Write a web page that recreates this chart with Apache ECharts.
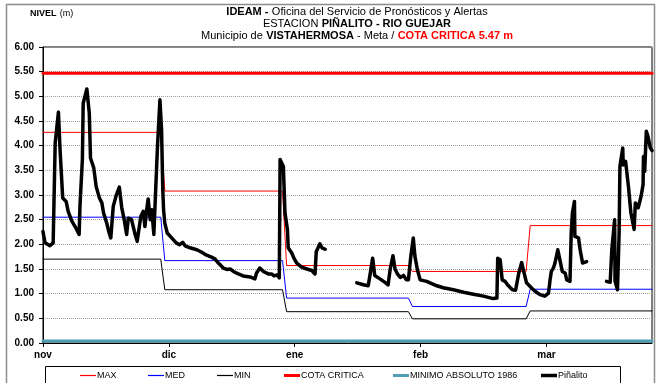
<!DOCTYPE html>
<html>
<head>
<meta charset="utf-8">
<script src="https://cdn.jsdelivr.net/npm/echarts@6/dist/echarts.min.js"></script>
<style>
  html, body { margin: 0; padding: 0; background: #fff; }
  #chart { width: 659px; height: 383px; }
</style>
</head>
<body>
<div id="chart"></div>
<script>
// Hydrological season Nov 1 .. Mar 31, x measured in days since Nov 1
const monthLabels = ['nov', 'dic', 'ene', 'feb', 'mar'];
const monthTickDays = [0, 31, 62, 93, 124];
const lastDay = 150;

// Day on which each monthly reference level takes effect
const levelStartDays = [0, 30, 60, 91, 120];
const maxLevels = [4.27, 3.08, 1.57, 1.45, 2.38];
const medLevels = [2.55, 1.67, 0.91, 0.74, 1.09];
const minLevels = [1.70, 1.08, 0.635, 0.49, 0.65];

const cotaCritica = 5.47;
const minimoAbsoluto1986 = 0.04;

// Piñalito gauge readings (null = no reading)
const pinalitoDay = [
  0, 0.5, 1.7, 2.5, 3.0, 3.8, 4.2, 4.85, 5.7, 6.2, 7.1, 7.9, 8.9, 9.1, 9.7, 9.9,
  10.8, 11.4, 11.7, 12.5, 13.1, 13.9, 14.5, 14.9, 15.7, 16.3, 16.7, 17.3, 18.1, 18.8,
  19.4, 20.0, 20.6, 21.0, 21.8, 22.7, 23.2, 23.5, 24.1, 24.7, 25.1, 25.5, 25.9, 26.4,
  26.8, 27.3, 27.7, 28.2, 28.8, 29.2, 29.5, 29.7, 30.0, 30.6, 31.7, 32.8, 33.6, 34.4,
  35.0, 36.2, 37.9, 39.1, 40.3, 41.5, 42.4, 43.2, 44.4, 45.3, 46.1, 46.9, 48.1, 49.3,
  51.0, 52.2, 52.6, 53.4, 54.3, 55.5, 56.3, 56.9, 57.7, 58.2, 58.4, 58.8, 59.2, 59.6,
  60.2, 60.4, 61.3, 61.8, 62.5, 63.7, 65.0, 66.2, 67.0, 67.3, 68.2, 68.7, 69.5,
  73.0,
  77.3, 78.9, 80.1, 80.5, 81.2, 81.7, 83.0, 84.4, 85.0, 85.5, 86.2, 86.7, 87.3, 88.0,
  88.8, 89.5, 90.0, 90.6, 91.2, 91.6, 92.2, 92.9, 94.5, 97.0, 98.6, 101.1, 103.6, 106.0,
  108.5, 110.9, 111.8, 112.0, 112.6, 113.1, 113.8, 114.4, 115.6, 116.4, 117.2, 117.9,
  118.4, 119.1, 120.4, 121.2, 122.4, 123.6, 124.5, 124.9, 125.2, 125.7, 126.1, 126.8,
  127.3, 127.9, 128.6, 129.0, 129.8, 130.1, 130.4, 130.9, 131.0, 131.9, 132.3, 132.9, 133.9,
  136.0,
  138.8, 139.7, 140.1, 140.8, 140.9, 141.5, 141.9, 142.1, 142.8, 142.9, 143.5, 144.2,
  144.8, 145.6, 145.9, 146.6, 147.3, 147.8, 147.9, 148.2, 148.6, 149.0, 149.6, 150.0
];
const pinalitoLevel = [
  2.26, 2.03, 1.97, 2.03, 4.05, 4.68, 3.92, 2.94, 2.87, 2.67, 2.47, 2.36, 2.20, 2.77, 3.72, 4.86,
  5.15, 4.66, 3.75, 3.55, 3.17, 2.94, 2.84, 2.64, 2.43, 2.23, 2.13, 2.77, 3.01, 3.16,
  2.74, 2.50, 2.20, 2.53, 2.50, 2.20, 2.06, 2.06, 2.57, 2.67, 2.36, 2.67, 2.92, 2.50,
  2.70, 2.20, 2.20, 3.99, 4.93, 4.32, 3.11, 2.70, 2.43, 2.23, 2.13, 2.03, 1.99, 2.04,
  1.97, 1.93, 1.89, 1.84, 1.78, 1.74, 1.70, 1.62, 1.52, 1.49, 1.50, 1.45, 1.40, 1.36,
  1.34, 1.30, 1.42, 1.52, 1.45, 1.40, 1.40, 1.36, 1.38, 1.32, 3.72, 3.68, 3.58, 2.64,
  2.30, 1.93, 1.82, 1.72, 1.62, 1.54, 1.50, 1.47, 1.40, 1.85, 2.01, 1.93, 1.90,
  null,
  1.22, 1.18, 1.16, 1.36, 1.72, 1.37, 1.30, 1.22, 1.18, 1.49, 1.77, 1.50, 1.40, 1.33,
  1.37, 1.28, 1.28, 1.76, 2.13, 1.76, 1.49, 1.28, 1.25, 1.16, 1.12, 1.08, 1.03, 0.99,
  0.95, 0.90, 0.91, 1.72, 1.69, 1.28, 1.25, 1.18, 1.08, 1.07, 1.42, 1.63,
  1.45, 1.22, 1.11, 1.05, 0.98, 0.95, 1.01, 1.28, 1.45, 1.52, 1.62, 1.89,
  1.69, 1.45, 1.42, 1.28, 1.25, 2.23, 2.64, 2.87, 2.16, 2.13, 1.89, 1.62, 1.65,
  null,
  1.25, 1.23, 1.89, 2.50, 1.25, 1.08, 2.23, 3.58, 3.95, 3.61, 3.68, 3.17,
  2.64, 2.30, 2.84, 2.74, 2.97, 3.21, 3.78, 3.48, 4.29, 4.19, 3.95, 3.90
];

const FONT = "'Liberation Sans Narrow', 'Liberation Sans', Arial, sans-serif";
const AXIS_FONT = "'Liberation Sans', Arial, sans-serif";

// Monthly step line: flat within each month, one-day ramp into the next level
function stepLine(levels) {
  const pts = [];
  for (let i = 0; i < levels.length; i++) {
    const start = levelStartDays[i];
    const end = i + 1 < levels.length ? levelStartDays[i + 1] - 1 : lastDay;
    pts.push([start, levels[i]]);
    pts.push([end, levels[i]]);
  }
  return pts;
}

function constantLine(v) {
  return [[0, v], [lastDay, v]];
}

const pinalitoData = pinalitoDay.map((d, i) => [d, pinalitoLevel[i] === null ? '-' : pinalitoLevel[i]]);

// Legend entries: name, left edge of the key, key thickness
const legendEntries = [
  { name: 'MAX', left: 80, h: 1.2 },
  { name: 'MED', left: 148, h: 1.2 },
  { name: 'MIN', left: 217, h: 1.2 },
  { name: 'COTA CRITICA', left: 284, h: 3 },
  { name: 'MINIMO ABSOLUTO 1986', left: 393, h: 3 },
  { name: 'Piñalito', left: 541, h: 3.5 }
];

function lineSeries(name, data, color, width, z) {
  return {
    name, type: 'line', data, symbol: 'none', showSymbol: false, z,
    lineStyle: { color, width, join: 'round', cap: 'round' },
    itemStyle: { color },
    connectNulls: false,
    animation: false
  };
}

const chart = echarts.init(document.getElementById('chart'), null, { renderer: 'canvas' });

chart.setOption({
  backgroundColor: '#fff',
  animation: false,
  grid: {
    left: 43, right: 7, top: 47, bottom: 40,
    show: true, borderColor: '#000', borderWidth: 1
  },
  xAxis: {
    type: 'value', min: 0, max: lastDay, interval: 31,
    axisLine: { show: true, lineStyle: { color: '#000', width: 1 } },
    axisTick: { show: true, length: 4, lineStyle: { color: '#000' } },
    splitLine: { show: false },
    axisLabel: {
      showMaxLabel: false,
      margin: 7,
      fontFamily: AXIS_FONT, fontSize: 10, fontWeight: 'bold', color: '#000',
      formatter: v => {
        const i = monthTickDays.indexOf(v);
        return i >= 0 ? monthLabels[i] : '';
      }
    }
  },
  yAxis: {
    type: 'value', min: 0, max: 6, interval: 0.5,
    axisLine: { show: true, lineStyle: { color: '#000', width: 1 } },
    axisTick: { show: true, length: 4, lineStyle: { color: '#000' } },
    splitLine: { show: true, lineStyle: { color: '#9a9a9a', type: 'dotted', width: 1 } },
    axisLabel: {
      margin: 9,
      fontFamily: AXIS_FONT, fontSize: 10, fontWeight: 'bold', color: '#000',
      formatter: v => v.toFixed(2)
    }
  },
  legend: legendEntries.map(e => ({
    left: e.left, top: 371, padding: 0,
    itemWidth: 16, itemHeight: e.h, itemGap: 0,
    icon: 'rect',
    textStyle: { fontFamily: FONT, fontSize: 9, color: '#000', padding: [0, 0, 0, -4] },
    data: [e.name]
  })),
  series: [
    lineSeries('MAX', stepLine(maxLevels), '#ff0000', 1, 3),
    lineSeries('MED', stepLine(medLevels), '#0000ff', 1, 3),
    lineSeries('MIN', stepLine(minLevels), '#000000', 1, 3),
    lineSeries('COTA CRITICA', constantLine(cotaCritica), '#ff0000', 3, 4),
    lineSeries('MINIMO ABSOLUTO 1986', constantLine(minimoAbsoluto1986), '#4f9fb4', 3, 4),
    lineSeries('Piñalito', pinalitoData, '#000000', 3.5, 5)
  ],
  graphic: [
    {
      type: 'rect', silent: true, z: -10,
      shape: { x: 6.5, y: 4.5, width: 648, height: 400 },
      style: { fill: 'none', stroke: '#8c8c8c', lineWidth: 1.5 }
    },
    {
      type: 'rect', silent: true, z: 1,
      shape: { x: 45.5, y: 366.5, width: 575, height: 30 },
      style: { fill: 'none', stroke: '#000', lineWidth: 1 }
    },
    {
      type: 'text', silent: true, x: 30, y: 8,
      style: {
        text: '{b|NIVEL} {n|(m)}',
        rich: {
          b: { fontFamily: FONT, fontSize: 9, fontWeight: 'bold', fill: '#000' },
          n: { fontFamily: FONT, fontSize: 9, fill: '#000' }
        }
      }
    },
    {
      type: 'text', silent: true, x: 357, y: 6,
      style: {
        text: '{b|IDEAM -} {n|Oficina del Servicio de Pronósticos y Alertas}\n' +
              '{n|ESTACION} {b|PIÑALITO - RIO GUEJAR}\n' +
              '{n|Municipio de} {b|VISTAHERMOSA}{n| - Meta /} {r|COTA CRITICA 5.47 m}',
        align: 'center',
        rich: {
          b: { fontFamily: FONT, fontSize: 11, fontWeight: 'bold', fill: '#000', lineHeight: 12 },
          n: { fontFamily: FONT, fontSize: 11, fill: '#000', lineHeight: 12 },
          r: { fontFamily: FONT, fontSize: 11, fontWeight: 'bold', fill: '#ff0000', lineHeight: 12 }
        }
      }
    }
  ]
});
</script>
</body>
</html>
